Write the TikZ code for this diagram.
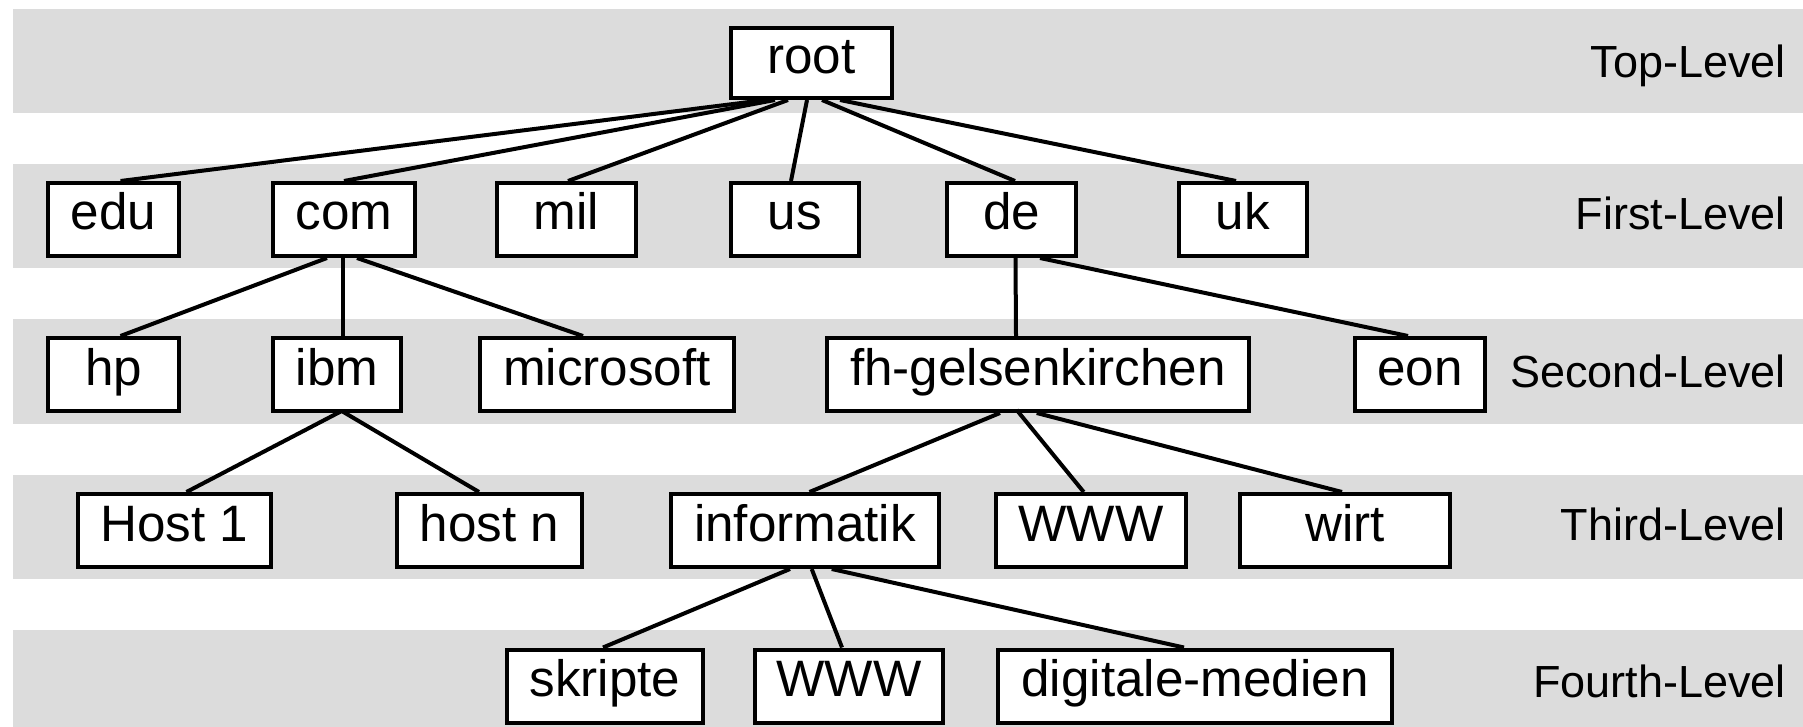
\documentclass[tikz,border=0pt]{standalone}
\usepackage{fontspec}
\setmainfont{Liberation Sans}
\usetikzlibrary{calc}
\definecolor{bandgray}{RGB}{220,220,220}
\begin{document}
\begin{tikzpicture}[x=0.5pt,y=-0.5pt,
  box/.style={draw, line width=2pt, fill=white, inner sep=0pt,
    text height=16pt, text depth=5.5pt, minimum height=36.5pt,
    font=\fontsize{25.6}{30}\selectfont},
  level/.style={anchor=base east, inner sep=0pt,
    font=\fontsize{22.5}{27}\selectfont},
  link/.style={line width=2pt},
  band/.style={fill=bandgray}]
\useasboundingbox (0,0) rectangle (1803,727);

% level bands
\fill[band] (13,9)   rectangle (1803,113);
\fill[band] (13,164) rectangle (1803,268);
\fill[band] (13,319) rectangle (1803,424);
\fill[band] (13,475) rectangle (1803,579);
\fill[band] (13,630) rectangle (1803,730);

% level labels
\node[level] (lt) at (1786,78)  {Top-Level};
\node[level] (l1) at (1786,230) {First-Level};
\node[level] (l2) at (1786,387) {Second-Level};
\node[level] (l3) at (1786,540) {Third-Level};
\node[level] (l4) at (1786,697) {Fourth-Level};

% top level
\node[box, minimum width=80.5pt, minimum height=35pt] (root) at (811.5,63) {root};

% first level
\node[box, minimum width=65.5pt] (edu) at (113.5,219.5) {edu};
\node[box, minimum width=70.75pt](com) at (344,219.5)   {com};
\node[box, minimum width=69.5pt] (mil) at (566.5,219.5) {mil};
\node[box, minimum width=64pt]   (us)  at (795,219.5)   {us};
\node[box, minimum width=64.5pt] (de)  at (1011.5,219.5){de};
\node[box, minimum width=64pt]   (uk)  at (1243,219.5)  {uk};

% second level
\node[box, minimum width=65.5pt]  (hp)  at (113.5,374.5) {hp};
\node[box, minimum width=63.75pt] (ibm) at (337,374.5)   {ibm};
\node[box, minimum width=127.25pt](ms)  at (607,374.5)   {microsoft};
\node[box, minimum width=211pt]   (fh)  at (1038,374.5)  {fh-gelsenkirchen};
\node[box, minimum width=65pt]    (eon) at (1420,374.5)  {eon};

% third level
\node[box, minimum width=96.5pt]  (h1)   at (174.5,530.5) {Host 1};
\node[box, minimum width=92.5pt]  (hn)   at (489.5,530.5) {host n};
\node[box, minimum width=134pt]   (inf)  at (805,530.5)   {informatik};
\node[box, minimum width=95pt]    (wwwa) at (1091,530.5)  {WWW};
\node[box, minimum width=105pt]   (wirt) at (1345,530.5)  {wirt};

% fourth level
\node[box, minimum width=98pt]    (skr)  at (605,686)  {skripte};
\node[box, minimum width=94.25pt] (wwwb) at (849,686)  {WWW};
\node[box, minimum width=196.75pt](dm)   at (1195,686) {digitale-medien};

% connectors
\draw[link] ($(root.south)+(-46.5,0)$) -- ($(edu.north)+(7,0)$);
\draw[link] ($(root.south)+(-36.5,0)$) -- (com.north);
\draw[link] ($(root.south)+(-23.5,0)$) -- ($(mil.north)+(1.5,0)$);
\draw[link] ($(root.south)+(-4.5,0)$)  -- ($(us.north)+(-4,0)$);
\draw[link] ($(root.south)+(10.5,0)$)  -- ($(de.north)+(3.5,0)$);
\draw[link] ($(root.south)+(28.5,0)$)  -- ($(uk.north)+(-7,0)$);

\draw[link] ($(com.south)+(-17,0)$) -- ($(hp.north)+(7,0)$);
\draw[link] ($(com.south)+(-1.5,0)$) -- ($(ibm.north)+(5.5,0)$);
\draw[link] ($(com.south)+(13,0)$)  -- ($(ms.north)+(-24,0)$);
\draw[link] ($(de.south)+(4,0)$)    -- ($(fh.north)+(-22,0)$);
\draw[link] ($(de.south)+(28.5,0)$) -- ($(eon.north)+(-12,0)$);

\draw[link] ($(ibm.south)+(4.7,-2)$) -- ($(h1.north)+(12,0)$);
\draw[link] ($(ibm.south)+(4.7,-2)$) -- ($(hn.north)+(-10.5,0)$);
\draw[link] ($(fh.south)+(-38,0)$)   -- ($(inf.north)+(4.5,0)$);
\draw[link] ($(fh.south)+(-21.3,-3)$) -- ($(wwwa.north)+(-7.3,0)$);
\draw[link] ($(fh.south)+(-1.3,0)$)  -- ($(wirt.north)+(-3,0)$);

\draw[link] ($(inf.south)+(-15,0)$)  -- ($(skr.north)+(-2,0)$);
\draw[link] ($(inf.south)+(6.7,0)$)  -- ($(wwwb.north)+(-7,0)$);
\draw[link] ($(inf.south)+(26.7,0)$) -- ($(dm.north)+(-11,0)$);
\end{tikzpicture}
\end{document}
